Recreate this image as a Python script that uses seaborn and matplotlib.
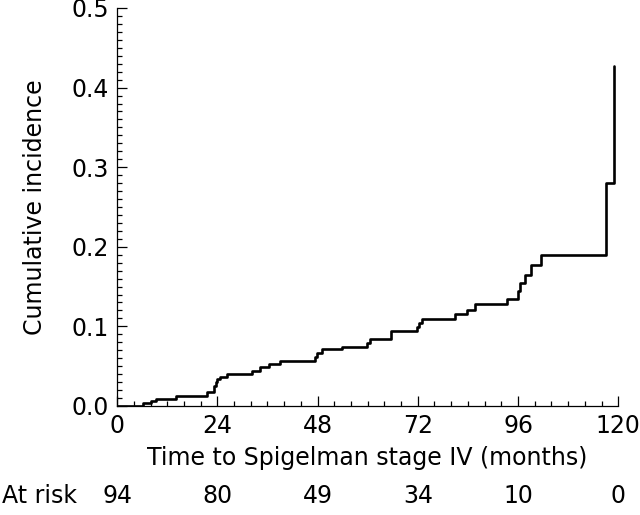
import matplotlib
matplotlib.use("Agg")
import matplotlib.pyplot as plt
import numpy as np
import pandas as pd
import seaborn as sns
from matplotlib.ticker import MultipleLocator, FormatStrFormatter
from matplotlib.transforms import blended_transform_factory

# step points (months, cumulative incidence)
months = [0, 6.1, 8.0, 9.2, 14.0, 21.6, 23.3, 23.6, 24.0, 24.6, 26.3,
          32.4, 34.3, 36.4, 39.0, 47.3, 47.8, 49.0, 53.8, 59.8, 60.6,
          65.5, 71.7, 72.3, 73.1, 80.8, 83.9, 85.7, 93.4, 95.9, 96.4,
          97.7, 99.0, 101.5, 117.1, 119.1]
incidence = [0.0, 0.004, 0.006, 0.009, 0.013, 0.017, 0.025, 0.030, 0.034,
             0.037, 0.040, 0.044, 0.049, 0.053, 0.057, 0.062, 0.066, 0.071,
             0.074, 0.079, 0.084, 0.094, 0.099, 0.104, 0.109, 0.116, 0.121,
             0.128, 0.135, 0.144, 0.154, 0.164, 0.177, 0.190, 0.280, 0.427]

risk_times = [0, 24, 48, 72, 96, 120]
at_risk = [94, 80, 49, 34, 10, 0]

FS = 17

sns.set_theme(style="ticks")
plt.rcParams["font.family"] = ["DejaVu Sans"]
plt.rcParams["font.size"] = FS
plt.rcParams["text.color"] = "black"
plt.rcParams["axes.labelcolor"] = "black"

fig = plt.figure(figsize=(6.4, 5.15), dpi=100)
ax = fig.add_axes([0.183, 0.2117, 0.783, 0.7728])

df = pd.DataFrame({"months": months, "incidence": incidence})
sns.lineplot(data=df, x="months", y="incidence", ax=ax, color="black",
             linewidth=1.9, drawstyle="steps-post", estimator=None, sort=False)

ax.set_xlim(0, 120)
ax.set_ylim(0, 0.5)
ax.xaxis.set_major_locator(MultipleLocator(24))
ax.xaxis.set_minor_locator(MultipleLocator(4))
ax.yaxis.set_major_locator(MultipleLocator(0.1))
ax.yaxis.set_minor_locator(MultipleLocator(0.01))
ax.yaxis.set_major_formatter(FormatStrFormatter("%.1f"))
ax.tick_params(which="major", direction="in", length=7, width=0.9,
               labelsize=FS, pad=6, color="black", labelcolor="black")
ax.tick_params(which="minor", direction="in", length=3.5, width=0.9,
               color="black")
for side in ["top", "right"]:
    ax.spines[side].set_visible(False)
for side in ["left", "bottom"]:
    ax.spines[side].set_linewidth(0.9)
    ax.spines[side].set_color("black")

ax.set_xlabel("Time to Spigelman stage IV (months)", fontsize=FS)
ax.set_ylabel("Cumulative incidence", fontsize=FS)
ax.xaxis.set_label_coords(0.5, -0.1)
ax.yaxis.set_label_coords(-0.14, 0.5)

# at-risk row under the axis
trans = blended_transform_factory(ax.transData, fig.transFigure)
y_row = 1 - 496 / 515
for t, n in zip(risk_times, at_risk):
    ax.text(t, y_row, str(n), transform=trans, ha="center", va="center",
            fontsize=FS, clip_on=False)
fig.text(0.003, y_row, "At risk", ha="left", va="center", fontsize=FS)

fig.savefig("out.png", dpi=100)
